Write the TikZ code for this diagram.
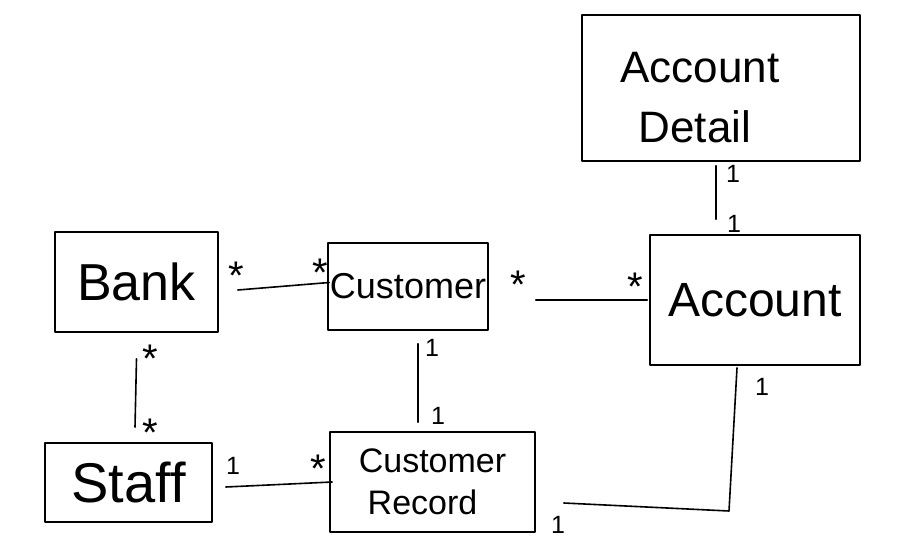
\documentclass[tikz,border=0pt]{standalone}
\usepackage{fontspec}
\setmainfont{Liberation Sans}
\begin{document}
\begin{tikzpicture}[x=1pt,y=-1pt,
  every path/.style={line width=1.6pt,line cap=round,line join=round},
  cls/.style={draw,line width=1.6pt,rectangle,inner sep=0pt,align=center},
  txt/.style={inner sep=0pt,align=center},
  mult/.style={inner sep=0pt,font=\fontsize{40}{40}\selectfont,text height=28.6pt,text depth=-17.2pt},
  one/.style={inner sep=0pt,font=\fontsize{25}{25}\selectfont}]
\useasboundingbox (0,0) rectangle (923,540);
% classes
\node[cls,minimum width=163pt,minimum height=100pt,font=\fontsize{52}{56}\selectfont] (bank) at (136.5,282) {\raisebox{-6pt}{Bank}};
\node[cls,minimum width=160pt,minimum height=87pt,font=\fontsize{36}{40}\selectfont] (customer) at (408,286.5) {\raisebox{-3pt}{Customer}};
\node[cls,minimum width=210pt,minimum height=130pt,font=\fontsize{48}{50}\selectfont] (account) at (755,300) {Account};
\node[cls,minimum width=278pt,minimum height=146pt] (detail) at (721,88) {};
\node[txt,font=\fontsize{44}{60}\selectfont] (detailtext) at (700,98) {Account\\\hspace*{-10pt}Detail};
\node[cls,minimum width=167pt,minimum height=79pt,font=\fontsize{56}{60}\selectfont] (staff) at (128.5,482.5) {Staff};
\node[cls,minimum width=205pt,minimum height=100pt,font=\fontsize{34}{42}\selectfont] (record) at (432.5,482) {Customer\\\hspace*{-20pt}Record};
% connectors
\draw ([xshift=19pt,yshift=-8pt]bank.east) -- ([xshift=2pt,yshift=4pt]customer.west);
\draw ([xshift=47pt,yshift=-13.5pt]customer.east) -- ([xshift=-2pt]account.west);
\draw ([xshift=10pt,yshift=-13pt]customer.south) -- ([xshift=-14.5pt,yshift=9pt]record.north);
\draw ([yshift=-26pt]bank.south) -- ([xshift=6.5pt,yshift=15pt]staff.north);
\draw ([xshift=13pt,yshift=-4.5pt]staff.east) -- ([xshift=3pt]record.west);
\coordinate (corner) at (729,511);
\draw ([xshift=-18pt,yshift=-2pt]account.south) -- (corner) -- ([xshift=28pt,yshift=-21pt]record.east);
\draw ([xshift=-5pt,yshift=-4pt]detail.south) -- ([xshift=-39pt,yshift=15pt]account.north);
% multiplicities
\node[mult] (m1) at (236,275) {*};
\node[mult] (m2) at (320,272) {*};
\node[mult] (m3) at (518,284) {*};
\node[mult] (m4) at (635,286) {*};
\node[one] (m5) at (432,348) {1};
\node[one] (m6) at (438,416) {1};
\node[mult] (m7) at (150,358) {*};
\node[mult] (m8) at (150,432) {*};
\node[one] (m9) at (233,466) {1};
\node[mult] (m10) at (318,468) {*};
\node[one] (m11) at (762,387) {1};
\node[one] (m12) at (558,525) {1};
\node[one] (m13) at (733,174) {1};
\node[one] (m14) at (734,224) {1};
\end{tikzpicture}
\end{document}
